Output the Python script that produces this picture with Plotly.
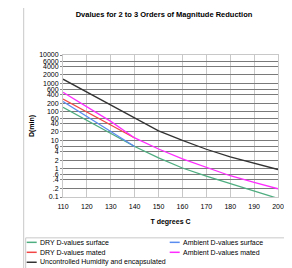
import plotly.graph_objects as go

temps = [110, 120, 130, 140, 150, 160, 170, 180, 190, 200]
temps_short = [110, 120, 130, 140]

dry_surface = [145, 50, 17.4, 6.0, 2.4, 1.05, 0.54, 0.30, 0.16, 0.089]
ambient_surface = [229, 68, 20, 6.0]
dry_mated = [282, 100, 35, 12]
ambient_mated = [490, 148, 46, 12, 4.9, 2.2, 1.12, 0.56, 0.33, 0.195]
uncontrolled = [1413, 490, 182, 62, 21.4, 9.8, 4.8, 2.6, 1.55, 0.93]

y_tickvals = [10000, 6000, 4000, 2000, 1000, 600, 400, 200, 100, 60, 40, 20,
              10, 6, 4, 2, 1, 0.6, 0.4, 0.2, 0.1]
y_ticktext = ["10000", "6000", "4000", "2000", "1000", "600", "400", "200", "100",
              "60", "40", "20", "10", "6", "4", "2", "1", ".6", ".4", ".2", "0.1"]
x_tickvals = [110, 120, 130, 140, 150, 160, 170, 180, 190, 200]

FONT = "Arial, Liberation Sans, sans-serif"

# (name, x, y, colour, legend column, legend row)
series = [
    ("DRY D-values surface", temps, dry_surface, "#4fae80", 0, 0),
    ("Ambient D-values surface", temps_short, ambient_surface, "#5a8cf0", 1, 0),
    ("DRY D-values mated", temps_short, dry_mated, "#f24646", 0, 1),
    ("Ambient D-values mated", temps, ambient_mated, "#ff2cff", 1, 1),
    ("Uncontrolled Humidity and encapsulated", temps, uncontrolled, "#333333", 0, 2),
]

# page body has an 8px margin; lay out in screenshot pixels
OFF = 8
W, H = 292 - OFF, 268 - OFF
plot_l, plot_r, plot_t, plot_b = 63.3, 278.3, 55.0, 197.5   # screenshot px
L = plot_l - OFF
R = W - (plot_r - OFF)
T = plot_t - OFF
B = H - (plot_b - OFF)
pw, ph = W - L - R, H - T - B


def px_x(p):
    return (p - OFF - L) / pw


def px_y(p):
    return (H - B - (p - OFF)) / ph


fig = go.Figure()
for name, xs, ys, col, _, _ in series:
    fig.add_trace(go.Scatter(x=xs, y=ys, mode="lines", name=name,
                             line=dict(color=col, width=1.3), showlegend=False))

shapes = [
    dict(type="rect", xref="paper", yref="paper",
         x0=px_x(24), x1=px_x(290), y0=px_y(272), y1=px_y(4),
         line=dict(color="#c8c8c8", width=1), layer="below"),
    dict(type="rect", xref="paper", yref="paper",
         x0=px_x(26), x1=px_x(289), y0=px_y(272), y1=px_y(238.5),
         line=dict(color="#c8c8c8", width=1), layer="below"),
]
annotations = []
col_x = [27, 170]
row_y = [243, 253, 263]
for name, _, _, col, c, r in series:
    x0 = col_x[c]
    y = row_y[r]
    shapes.append(dict(type="line", xref="paper", yref="paper",
                       x0=px_x(x0), x1=px_x(x0 + 10), y0=px_y(y), y1=px_y(y),
                       line=dict(color=col, width=1.5)))
    annotations.append(dict(text=name, xref="paper", yref="paper",
                            x=px_x(x0 + 11), y=px_y(y), xanchor="left",
                            yanchor="middle", showarrow=False,
                            font=dict(size=7, family=FONT, color="#000")))

fig.update_layout(
    width=W, height=H,
    margin=dict(l=L, r=R, t=T, b=B, autoexpand=False),
    paper_bgcolor="white", plot_bgcolor="white",
    font=dict(family=FONT, size=7, color="#000"),
    title=dict(text="<b>Dvalues for 2 to 3 Orders of Magnitude Reduction</b>",
               x=(164 - OFF) / W, xanchor="center", y=1 - (14.5 - OFF) / H,
               yanchor="middle", font=dict(size=7.5, family=FONT)),
    showlegend=False,
    xaxis=dict(range=[110, 200], tickvals=x_tickvals, showgrid=True,
               gridcolor="#c8c8c8", gridwidth=1, zeroline=False,
               showline=True, linecolor="#c8c8c8", mirror=True,
               ticks="outside", ticklen=3, tickcolor="rgba(0,0,0,0)",
               tickfont=dict(size=7),
               title=dict(text="<b>T degrees C</b>", font=dict(size=7), standoff=9)),
    yaxis=dict(type="log", range=[-1, 4], tickvals=y_tickvals, ticktext=y_ticktext,
               showgrid=True, gridcolor="#7a7a7a", gridwidth=1, zeroline=False,
               showline=True, linecolor="#c8c8c8", mirror=True,
               ticks="outside", ticklen=2, tickcolor="#888",
               tickfont=dict(size=7),
               title=dict(text="<b>D(min)</b>", font=dict(size=7), standoff=3)),
    shapes=shapes,
    annotations=annotations,
)

fig.write_html("out.html")
